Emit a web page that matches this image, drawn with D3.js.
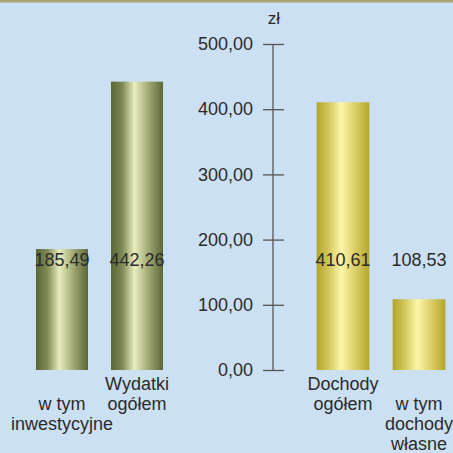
<!DOCTYPE html>
<html><head><meta charset="utf-8">
<script src="https://cdn.jsdelivr.net/npm/d3@7"></script>
<style>html,body{margin:0;padding:0;background:#cce0f3;}svg{display:block;}</style>
</head><body>
<svg id="c" width="453" height="453"></svg>
<script>
const leftCategories = [["w tym", "inwestycyjne"], ["Wydatki", "ogółem"]];
const leftValues = [185.49, 442.26];
const leftLabels = ["185,49", "442,26"];
const rightCategories = [["Dochody", "ogółem"], ["w tym", "dochody", "własne"]];
const rightValues = [410.61, 108.53];
const rightLabels = ["410,61", "108,53"];
const tickValues = [0, 100, 200, 300, 400, 500];
const tickLabels = ["0,00", "100,00", "200,00", "300,00", "400,00", "500,00"];
const unitLabel = "zł";

const svg = d3.select("#c");
const font = "'Liberation Sans', Arial, sans-serif";
svg.append("rect").attr("x",0).attr("y",0).attr("width",453).attr("height",453).attr("fill","#cce0f3");
svg.append("rect").attr("x",0).attr("y",0).attr("width",453).attr("height",2.5).attr("fill","#a6a271");

const defs = svg.append("defs");
const g1 = defs.append("linearGradient").attr("id","olive").attr("x1","0").attr("x2","1").attr("y1","0").attr("y2","0");
[[0,"#5a6636"],[0.22,"#7f8a55"],[0.45,"#e8edbf"],[0.7,"#a5ad78"],[1,"#5c6738"]].forEach(s=>g1.append("stop").attr("offset",s[0]).attr("stop-color",s[1]));
const g2 = defs.append("linearGradient").attr("id","gold").attr("x1","0").attr("x2","1").attr("y1","0").attr("y2","0");
[[0,"#b2a42e"],[0.22,"#d2c55a"],[0.47,"#fdf6a8"],[0.72,"#dcd06a"],[1,"#b3a62c"]].forEach(s=>g2.append("stop").attr("offset",s[0]).attr("stop-color",s[1]));

const y = d3.scaleLinear().domain([0,500]).range([370,44]);
const xL = d3.scaleBand().domain(leftCategories.map(d=>d.join(" "))).range([24.5,174.5]).paddingInner(0.307).paddingOuter(0.153);
const xR = d3.scaleBand().domain(rightCategories.map(d=>d.join(" "))).range([305,457]).paddingInner(0.307).paddingOuter(0.153);

// axis
const axis = d3.axisLeft(y).tickValues(tickValues).tickSize(10).tickPadding(10).tickFormat((d,i)=>tickLabels[i]);
const ag = svg.append("g").attr("transform","translate(273,0)").call(axis);
ag.select(".domain").remove();
ag.append("line").attr("x1",0).attr("x2",0).attr("y1",y(500)).attr("y2",y(0)).attr("stroke","#555").attr("stroke-width",1.3);
ag.selectAll(".tick line").attr("x1",-10).attr("x2",11).attr("stroke","#555").attr("stroke-width",1.3);
ag.selectAll(".tick text").attr("font-family",font).attr("font-size",18).attr("fill","#2b2b2b").attr("x",-20);
svg.append("text").attr("x",274).attr("y",24).attr("text-anchor","middle").attr("font-family",font).attr("font-size",17).attr("fill","#2b2b2b").text(unitLabel);

function group(cats, vals, labs, x, fill, firstLineYs){
  cats.forEach((c,i)=>{
    const key = c.join(" ");
    svg.append("rect").attr("x",x(key)).attr("width",x.bandwidth()).attr("y",y(vals[i])).attr("height",y(0)-y(vals[i])).attr("fill",fill);
    svg.append("text").attr("x",x(key)+x.bandwidth()/2).attr("y",266).attr("text-anchor","middle").attr("font-family",font).attr("font-size",18).attr("fill","#2b2b2b").text(labs[i]);
    const t = svg.append("text").attr("text-anchor","middle").attr("font-family",font).attr("font-size",18).attr("fill","#2b2b2b");
    c.forEach((line,j)=>{
      t.append("tspan").attr("x",x(key)+x.bandwidth()/2).attr("y",firstLineYs[i]+j*20).text(line);
    });
  });
}
group(leftCategories, leftValues, leftLabels, xL, "url(#olive)", [410, 390]);
group(rightCategories, rightValues, rightLabels, xR, "url(#gold)", [390, 410]);
</script>
</body></html>
